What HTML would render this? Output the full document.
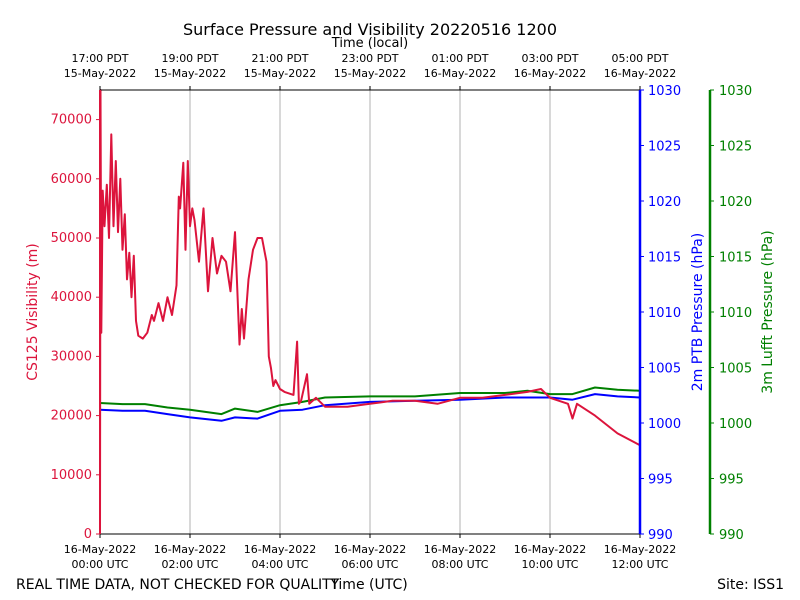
<!DOCTYPE html>
<html><head><meta charset="utf-8"><style>
body{margin:0;background:#fff;}
svg{display:block;font-family:"DejaVu Sans","Liberation Sans",sans-serif;}
</style></head><body>
<svg id="chart" width="800" height="600">
<text x="370" y="35" font-size="16" text-anchor="middle">Surface Pressure and Visibility 20220516 1200</text>
<text x="370" y="47" font-size="13" text-anchor="middle">Time (local)</text>
<text x="369" y="589" font-size="14" text-anchor="middle">Time (UTC)</text>
<text x="16" y="589" font-size="14">REAL TIME DATA, NOT CHECKED FOR QUALITY</text>
<text x="784" y="589" font-size="14" text-anchor="end">Site: ISS1</text>
<text transform="translate(37,312) rotate(-90)" font-size="14" fill="#dc143c" text-anchor="middle">CS125 Visibility (m)</text>
<text transform="translate(702,312) rotate(-90)" font-size="14" fill="#0000ff" text-anchor="middle">2m PTB Pressure (hPa)</text>
<text transform="translate(772,312) rotate(-90)" font-size="14" fill="#008000" text-anchor="middle">3m Lufft Pressure (hPa)</text>
<g id="grid"></g><g id="series"></g><g id="axes"></g>
</svg>
<script>
const visHours=[0,0.01,0.03,0.06,0.1,0.15,0.2,0.25,0.3,0.35,0.4,0.45,0.5,0.55,0.6,0.65,0.7,0.75,0.8,0.85,0.95,1.05,1.15,1.2,1.3,1.4,1.5,1.6,1.7,1.75,1.78,1.85,1.9,1.95,2.0,2.05,2.1,2.2,2.3,2.4,2.5,2.6,2.7,2.8,2.9,3.0,3.1,3.15,3.2,3.3,3.4,3.5,3.6,3.7,3.75,3.8,3.85,3.9,4.0,4.1,4.3,4.38,4.42,4.47,4.6,4.65,4.8,5.0,5.5,6.0,6.5,7.0,7.5,8.0,8.5,9.0,9.5,9.8,10.0,10.4,10.5,10.6,11.0,11.5,12.0];
const visValues=[0,75000,34000,58000,52000,59000,50000,67500,52000,63000,51000,60000,48000,54000,43000,47500,40000,47000,36000,33500,33000,34000,37000,36000,39000,36000,40000,37000,42000,57000,55000,62700,48000,63000,52000,55000,53000,46000,55000,41000,50000,44000,47000,46000,41000,51000,32000,38000,33000,43000,48000,50000,50000,46000,30000,28000,25000,26000,24500,24000,23500,32500,22000,22500,27000,22000,23000,21500,21500,22000,22500,22500,22000,23000,23000,23500,24000,24500,23000,22000,19500,22000,20000,17000,15000];
const ptbHours=[0,0.5,1,1.5,2,2.7,3,3.5,4,4.5,5,6,7,8,9,10,10.5,11,11.5,12];
const ptbValues=[1001.2,1001.1,1001.1,1000.8,1000.5,1000.2,1000.5,1000.4,1001.1,1001.2,1001.6,1001.9,1002.0,1002.1,1002.3,1002.3,1002.1,1002.6,1002.4,1002.3];
const lufftHours=[0,0.5,1,1.5,2,2.7,3,3.5,4,4.5,5,6,7,8,9,9.5,10,10.5,11,11.5,12];
const lufftValues=[1001.8,1001.7,1001.7,1001.4,1001.2,1000.8,1001.3,1001.0,1001.6,1001.9,1002.3,1002.4,1002.4,1002.7,1002.7,1002.9,1002.6,1002.6,1003.2,1003.0,1002.9];
const utcTicks=["16-May-2022|00:00 UTC","16-May-2022|02:00 UTC","16-May-2022|04:00 UTC","16-May-2022|06:00 UTC","16-May-2022|08:00 UTC","16-May-2022|10:00 UTC","16-May-2022|12:00 UTC"];
const localTicks=["17:00 PDT|15-May-2022","19:00 PDT|15-May-2022","21:00 PDT|15-May-2022","23:00 PDT|15-May-2022","01:00 PDT|16-May-2022","03:00 PDT|16-May-2022","05:00 PDT|16-May-2022"];
const visTicks=[0,10000,20000,30000,40000,50000,60000,70000];
const presTicks=[990,995,1000,1005,1010,1015,1020,1025,1030];

const L=100,R=640,T=90,B=534;
const xs=h=>L+h/12*(R-L);
const yv=v=>B-v/75000*(B-T);
const yp=p=>B-(p-990)/40*(B-T);
const NS="http://www.w3.org/2000/svg";
function mk(tag,attrs,parent,text){const e=document.createElementNS(NS,tag);for(const k in attrs)e.setAttribute(k,attrs[k]);if(text!==undefined)e.textContent=text;parent.appendChild(e);return e;}
const grid=document.getElementById('grid'),ser=document.getElementById('series'),ax=document.getElementById('axes');
utcTicks.forEach((t,i)=>{const x=xs(i*2);
 const g=mk('line',{x1:x,x2:x,y1:T,y2:B,stroke:'#b0b0b0','stroke-width':1},grid);
 
 
 mk('line',{x1:x,x2:x,y1:B,y2:B+4,stroke:'#000'},ax);
 mk('line',{x1:x,x2:x,y1:T,y2:T-4,stroke:'#000'},ax);
 const p=t.split('|');
 const a=mk('text',{x:x,y:553,'font-size':11,'text-anchor':'middle'},ax,p[0]);
 
 
 mk('text',{x:x,y:568,'font-size':11,'text-anchor':'middle'},ax,p[1]);
 const q=localTicks[i].split('|');
 const b=mk('text',{x:x,y:62,'font-size':11,'text-anchor':'middle'},ax,q[0]);
 
 
 mk('text',{x:x,y:77,'font-size':11,'text-anchor':'middle'},ax,q[1]);
});
function line(hs,vs,yf,color,name){
 const d=hs.map((h,i)=>(i?'L':'M')+xs(h).toFixed(1)+','+yf(vs[i]).toFixed(1)).join('');
 const p=mk('path',{d:d,fill:'none',stroke:color,'stroke-width':2,'stroke-linejoin':'round'},ser);
 
 
}
line(lufftHours,lufftValues,yp,'#008000','lufft-pressure-line');
line(ptbHours,ptbValues,yp,'#0000ff','ptb-pressure-line');
line(visHours,visValues,yv,'#dc143c','visibility-line');
mk('line',{x1:L,x2:R,y1:T,y2:T,stroke:'#000'},ax);
mk('line',{x1:L,x2:R,y1:B,y2:B,stroke:'#000'},ax);
mk('line',{x1:L,x2:L,y1:T,y2:B,stroke:'#dc143c','stroke-width':2},ax);
mk('line',{x1:R,x2:R,y1:T,y2:B,stroke:'#0000ff','stroke-width':2.5},ax);
mk('line',{x1:710,x2:710,y1:T,y2:B,stroke:'#008000','stroke-width':2.5},ax);
visTicks.forEach(v=>{const y=yv(v);
 mk('line',{x1:L-4,x2:L,y1:y,y2:y,stroke:'#dc143c'},ax);
 const t=mk('text',{x:L-8,y:y+4,'font-size':13,'text-anchor':'end',fill:'#dc143c'},ax,v);
 
 
});
presTicks.forEach(p=>{const y=yp(p);
 mk('line',{x1:R,x2:R+4,y1:y,y2:y,stroke:'#0000ff'},ax);
 const t=mk('text',{x:R+8,y:y+5,'font-size':13,fill:'#0000ff'},ax,p);
 
 
 mk('line',{x1:710,x2:714,y1:y,y2:y,stroke:'#008000'},ax);
 const u=mk('text',{x:719,y:y+5,'font-size':13,fill:'#008000'},ax,p);
 
 
});
</script>
</body></html>
